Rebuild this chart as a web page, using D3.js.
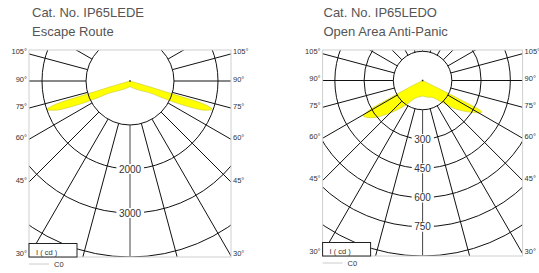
<!DOCTYPE html>
<html>
<head>
<meta charset="utf-8">
<script src="https://cdn.jsdelivr.net/npm/d3@7"></script>
<style>
  html, body { margin: 0; padding: 0; background: #fff; }
  svg { display: block; }
  text { font-family: "Liberation Sans", Arial, Helvetica, sans-serif; }
</style>
</head>
<body>
<svg id="chart" width="539" height="273"></svg>
<script>
// ---------- data ----------
const leftTitle = ["Cat. No. IP65LEDE", "Escape Route"];
const rightTitle = ["Cat. No. IP65LEDO", "Open Area Anti-Panic"];

const leftRings = [1000, 2000, 3000, 4000];
const leftRingLabels = ["", "2000", "3000", ""];
const rightRings = [150, 300, 450, 600, 750, 900];
const rightRingLabels = ["", "300", "450", "600", "750", ""];

const gridAngles = [-165, -150, -135, -120, -105, -90, -75, -60, -45, -30, -15, 0,
                    15, 30, 45, 60, 75, 90, 105, 120, 135, 150, 165, 180];
const sideAngleLabels = [105, 90, 75, 60, 45, 30];

const leftCurveAngles = [-90, -75, -74, -73.5, -73, -72.5, -71, -69, -68, -66, -64, -62, -60, -55, -47, -30, -15, 0,
                          15, 30, 47, 55, 60, 62, 64, 66, 68, 69, 71, 72.5, 73, 73.5, 74, 75, 90];
const leftCurveCd =     [0, 0, 100, 500, 1000, 1800, 2000, 1850, 1757, 1400, 1050, 750, 560, 420, 311, 200, 150, 130,
                          150, 200, 311, 420, 560, 750, 1050, 1400, 1757, 1850, 1980, 1800, 1000, 500, 100, 0, 0];

const rightCurveAngles = [-90, -64, -62.5, -62, -61.5, -61, -59, -57, -52, -44, -35, -23, -10, 0,
                           10, 20, 29, 41.5, 49, 57, 61.8, 62.6, 63, 63.3, 63.6, 65, 90];
const rightCurveCd =     [0, 0, 90, 160, 240, 310, 354, 345, 308, 227, 157, 99, 85, 80,
                           85, 92, 98, 149, 221, 300, 345, 335, 300, 190, 90, 0, 0];

// ---------- drawing ----------
const svg = d3.select("#chart");
const rad = d => d * Math.PI / 180;

function drawChart(opt) {
  const g = svg.append("g");
  const { cx, cy, halfW, top, rings, ringLabels, curveAngles, curveCd, title, id } = opt;
  const r = d3.scaleLinear().domain([0, rings[rings.length - 1]]).range([0, opt.rMax]);
  const bottom = cy + opt.rMax;
  const left = cx - halfW, right = cx + halfW;

  // titles
  g.append("text").attr("x", opt.titleX).attr("y", 16.5).attr("font-size", 13)
    .attr("fill", "#555").text(title[0]);
  g.append("text").attr("x", opt.titleX).attr("y", 36).attr("font-size", 13)
    .attr("fill", "#555").text(title[1]);

  // clip
  svg.append("clipPath").attr("id", id).append("rect")
    .attr("x", left).attr("y", top).attr("width", right - left).attr("height", bottom - top);
  const plot = g.append("g").attr("clip-path", `url(#${id})`);

  // frame
  g.append("rect").attr("x", left).attr("y", top).attr("width", right - left).attr("height", bottom - top)
    .attr("fill", "none").attr("stroke", "#d0d0d0").attr("stroke-width", 1);

  // intensity curve
  const pts = curveAngles.map((a, i) => [a, curveCd[i]]);
  const line = d3.lineRadial()
    .angle(d => Math.PI - rad(d[0]))
    .radius(d => r(d[1]))
    .curve(d3.curveCatmullRom.alpha(0.5));
  plot.append("path").attr("transform", `translate(${cx},${cy})`)
    .attr("d", line(pts) + "Z")
    .attr("fill", "#ffff00").attr("stroke", "#c8c830").attr("stroke-width", 0.6);

  // rings
  plot.selectAll("circle.ring").data(rings).enter().append("circle")
    .attr("cx", cx).attr("cy", cy).attr("r", d => r(d))
    .attr("fill", "none").attr("stroke", "#111").attr("stroke-width", 1);

  // radial lines
  const r0 = r(rings[0]);
  plot.selectAll("line.rad").data(gridAngles).enter().append("line")
    .attr("x1", a => cx + r0 * Math.sin(rad(a)))
    .attr("y1", a => cy + r0 * Math.cos(rad(a)))
    .attr("x2", a => cx + 400 * Math.sin(rad(a)))
    .attr("y2", a => cy + 400 * Math.cos(rad(a)))
    .attr("stroke", a => a === 0 ? "#444" : "#111").attr("stroke-width", 1);

  // centre dot
  plot.append("rect").attr("x", cx - 0.75).attr("y", cy - 0.75).attr("width", 1.5).attr("height", 1.5).attr("fill", "#222");

  // ring labels
  rings.forEach((v, i) => {
    if (!ringLabels[i]) return;
    const y = cy + r(v);
    const t = g.append("text").attr("x", cx).attr("y", y).attr("text-anchor", "middle")
      .attr("dominant-baseline", "central").attr("font-size", 10).attr("fill", "#333").text(ringLabels[i]);
    const bb = t.node().getBBox();
    g.insert("rect", "text:last-child").attr("x", bb.x - 2.5).attr("y", y - 5)
      .attr("width", bb.width + 5).attr("height", 10).attr("fill", "#fff");
  });

  // side angle labels
  sideAngleLabels.forEach(a => {
    const y = cy + halfW * Math.cos(rad(a)) / Math.sin(rad(a)) - 2;
    g.append("text").attr("x", left - 2).attr("y", y).attr("text-anchor", "end")
      .attr("dominant-baseline", "central").attr("font-size", 7.5).attr("fill", "#333").text(a + "°");
    g.append("text").attr("x", right + 2).attr("y", y).attr("text-anchor", "start")
      .attr("dominant-baseline", "central").attr("font-size", 7.5).attr("fill", "#333").text(a + "°");
  });

  // legend box
  g.append("rect").attr("x", left).attr("y", bottom - 13.5).attr("width", 48).attr("height", 13.5)
    .attr("fill", "#fff").attr("stroke", "#222").attr("stroke-width", 1);
  g.append("text").attr("x", left + 7).attr("y", bottom - 1.8).attr("font-size", 7.5)
    .attr("fill", "#333").text("I ( cd )");
  g.append("line").attr("x1", left).attr("x2", left + 20).attr("y1", bottom + 7).attr("y2", bottom + 7)
    .attr("stroke", "#ccc").attr("stroke-width", 1);
  g.append("text").attr("x", left + 25).attr("y", bottom + 10).attr("font-size", 7.5)
    .attr("fill", "#333").text("C0");
}

drawChart({
  id: "clipL", cx: 130, cy: 81, halfW: 101, top: 50, rMax: 176, titleX: 32,
  rings: leftRings, ringLabels: leftRingLabels,
  curveAngles: leftCurveAngles, curveCd: leftCurveCd, title: leftTitle
});
drawChart({
  id: "clipR", cx: 422.6, cy: 80.5, halfW: 100, top: 50, rMax: 175.5, titleX: 323.5,
  rings: rightRings, ringLabels: rightRingLabels,
  curveAngles: rightCurveAngles, curveCd: rightCurveCd, title: rightTitle
});
</script>
</body>
</html>
